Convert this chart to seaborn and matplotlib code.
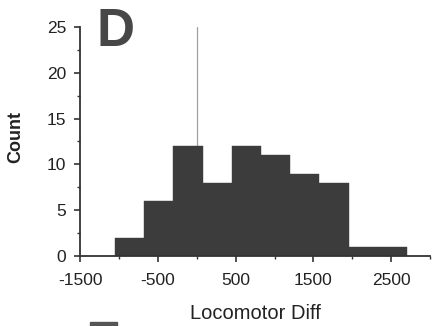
import matplotlib
matplotlib.use("Agg")
import matplotlib.pyplot as plt
import seaborn as sns
import numpy as np
import pandas as pd
from matplotlib.patches import Rectangle
from matplotlib.ticker import MultipleLocator

# Data
bin_edges = [-1050, -675, -300, 75, 450, 825, 1200, 1575, 1950, 2325, 2700]
counts = [2, 6, 12, 8, 12, 11, 9, 8, 1, 1]
x_ticks = [-1500, -500, 500, 1500, 2500]
y_ticks = [0, 5, 10, 15, 20, 25]
panel_label = "D"
x_label = "Locomotor Diff"
y_label = "Count"

centers = [(bin_edges[i] + bin_edges[i + 1]) / 2 for i in range(len(counts))]
df = pd.DataFrame({"diff": centers, "n": counts})

sns.set_theme(style="ticks")
plt.rcParams["font.family"] = ["Liberation Sans", "DejaVu Sans"]

fig = plt.figure(figsize=(4.35, 3.26), dpi=100)
ax = fig.add_axes([0.184, 0.215, 0.805, 0.702])

ax.axvline(0, color="#a0a0a0", lw=0.9, zorder=0)
sns.histplot(data=df, x="diff", weights="n", bins=bin_edges, ax=ax,
             color="#3c3c3c", alpha=1, edgecolor="#3c3c3c", linewidth=0.3,
             zorder=2)

ax.set_xlim(-1500, 3000)
ax.set_ylim(0, 25)
ax.set_xticks(x_ticks)
ax.set_xticklabels([str(v) for v in x_ticks])
ax.set_yticks(y_ticks)
ax.xaxis.set_minor_locator(MultipleLocator(500))
ax.yaxis.set_minor_locator(MultipleLocator(2.5))
ax.tick_params(axis="both", which="major", labelsize=12.5, length=4, width=1.2,
               color="#333333", labelcolor="#222222")
ax.tick_params(axis="x", which="major", pad=8)
ax.tick_params(axis="y", which="major", pad=6)
ax.tick_params(axis="both", which="minor", length=2.5, width=1, color="#333333")
for s in ["top", "right"]:
    ax.spines[s].set_visible(False)
for s in ["left", "bottom"]:
    ax.spines[s].set_color("#333333")
    ax.spines[s].set_linewidth(1.3)

ax.set_xlabel(x_label, fontsize=14.5, color="#222222", labelpad=12)
ax.set_ylabel(y_label, fontsize=13, fontweight="bold", color="#222222", labelpad=14)
ax.yaxis.set_label_coords(-0.16, 0.52)

fig.text(0.222, 0.98, panel_label, fontsize=38, fontweight="bold",
         color="#474747", ha="left", va="top")

fig.patches.append(Rectangle((0.207, 0.0), 0.062, 0.012, transform=fig.transFigure,
                             color="#555555", zorder=0))

fig.savefig("out.png", dpi=100)
